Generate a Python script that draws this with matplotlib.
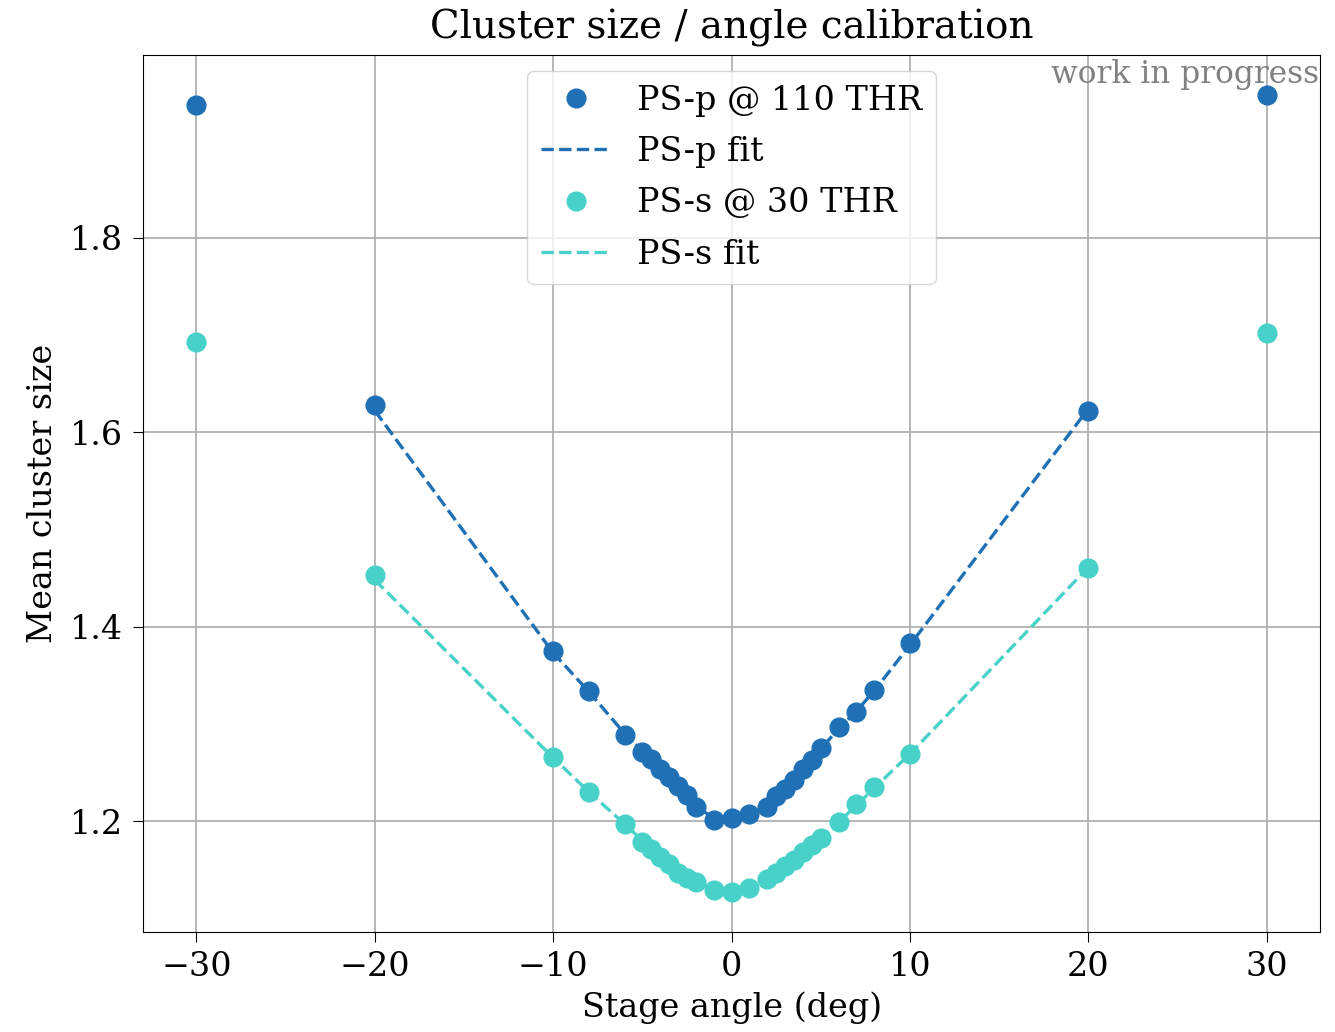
import numpy as np
import matplotlib.pyplot as plt

plt.rcParams['font.family'] = 'DejaVu Serif'

# stage angles (deg)
angles = [-30, -20, -10, -8, -6, -5, -4.5, -4, -3.5, -3, -2.5, -2, -1, 0,
          1, 2, 2.5, 3, 3.5, 4, 4.5, 5, 6, 7, 8, 10, 20, 30]

# mean cluster size, PS-p @ 110 THR
ps_p = [1.936, 1.628, 1.375, 1.334, 1.288, 1.271, 1.264, 1.254, 1.245, 1.236,
        1.227, 1.214, 1.201, 1.203, 1.207, 1.214, 1.226, 1.233, 1.242, 1.253,
        1.263, 1.275, 1.297, 1.312, 1.335, 1.383, 1.622, 1.947]

# mean cluster size, PS-s @ 30 THR
ps_s = [1.693, 1.453, 1.266, 1.230, 1.197, 1.178, 1.171, 1.163, 1.156, 1.147,
        1.141, 1.137, 1.129, 1.127, 1.131, 1.140, 1.147, 1.154, 1.160, 1.168,
        1.175, 1.183, 1.199, 1.218, 1.235, 1.269, 1.460, 1.702]

# fit curves, evaluated over the fit range (-20 .. 20 deg)
fit_x = [-20, -10, -8, -6, -5, -4, -3, -2, -1, 0, 1, 2, 3, 4, 5, 6, 7, 8, 10, 20]
fit_p = [1.622, 1.373, 1.333, 1.290, 1.272, 1.253, 1.234, 1.215, 1.203, 1.202,
         1.206, 1.214, 1.232, 1.252, 1.274, 1.295, 1.313, 1.334, 1.381, 1.624]
fit_s = [1.448, 1.265, 1.230, 1.197, 1.180, 1.163, 1.148, 1.137, 1.129, 1.127,
         1.131, 1.140, 1.154, 1.168, 1.183, 1.199, 1.216, 1.234, 1.269, 1.461]

c_p = '#1f70b5'
c_s = '#48d1c8'

fig = plt.figure(figsize=(13.35, 10.32), dpi=100)
ax = fig.add_axes([0.107, 0.097, 0.882, 0.850])

ax.plot(angles, ps_p, 'o', color=c_p, ms=13.5, label='PS-p @ 110 THR', zorder=3)
ax.plot(fit_x, fit_p, '--', color=c_p, lw=2.4, label='PS-p fit', zorder=2)
ax.plot(angles, ps_s, 'o', color=c_s, ms=13.5, label='PS-s @ 30 THR', zorder=3)
ax.plot(fit_x, fit_s, '--', color=c_s, lw=2.4, label='PS-s fit', zorder=2)

ax.grid(True, color='#b0b0b0', lw=1.3)
ax.set_axisbelow(True)
ax.set_xticks([-30, -20, -10, 0, 10, 20, 30])
ax.set_yticks([1.2, 1.4, 1.6, 1.8])
ax.tick_params(labelsize=24, length=7, pad=7)

ax.set_xlabel('Stage angle (deg)', fontsize=24, labelpad=6)
ax.set_ylabel('Mean cluster size', fontsize=24, labelpad=8)
ax.set_title('Cluster size / angle calibration', fontsize=28, pad=12)

ax.text(0.999, 0.995, 'work in progress', transform=ax.transAxes,
        ha='right', va='top', fontsize=22.5, color='gray')

ax.legend(loc='upper center', fontsize=24, handlelength=2.1, labelspacing=0.58)

fig.savefig('out.png', dpi=100)
